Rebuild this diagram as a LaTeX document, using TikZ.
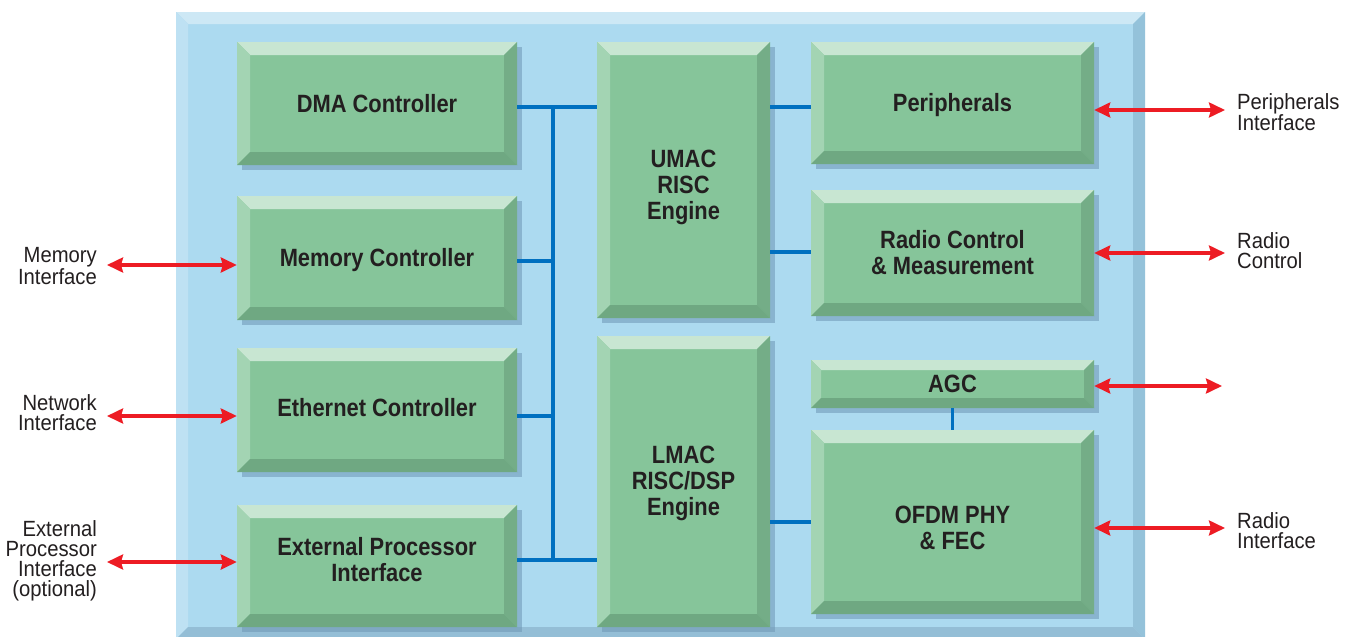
\documentclass[tikz,border=0pt]{standalone}
\usepackage{fontspec}
\setmainfont{Liberation Sans}
\newfontfamily\lblf{Liberation Sans}[FakeStretch=0.92]
\newfontfamily\blkf{Liberation Sans}[FakeStretch=0.875]
\usetikzlibrary{arrows.meta,shadows,calc}
\definecolor{gface}{RGB}{134,197,154}
\definecolor{gtop}{RGB}{200,230,210}
\definecolor{gleft}{RGB}{163,212,179}
\definecolor{gright}{RGB}{116,173,135}
\definecolor{gbot}{RGB}{111,168,130}
\definecolor{bface}{RGB}{172,218,240}
\definecolor{btop}{RGB}{205,232,245}
\definecolor{bleft}{RGB}{190,225,243}
\definecolor{bright}{RGB}{148,194,218}
\definecolor{bbot}{RGB}{148,190,214}
\definecolor{shad}{RGB}{110,150,180}
\definecolor{busc}{RGB}{0,112,192}
\definecolor{arrc}{RGB}{237,28,36}
\definecolor{txtc}{RGB}{35,31,32}
\newcommand{\bv}{13pt}
\tikzset{
  bvw/.code={\renewcommand{\bv}{#1}},
  bevelpic/.style n args={4}{path picture={
    \fill[#1] (path picture bounding box.north west) -- (path picture bounding box.north east)
      -- ($(path picture bounding box.north east)+(-\bv,-\bv)$) -- ($(path picture bounding box.north west)+(\bv,-\bv)$) -- cycle;
    \fill[#2] (path picture bounding box.north west) -- ($(path picture bounding box.north west)+(\bv,-\bv)$)
      -- ($(path picture bounding box.south west)+(\bv,\bv)$) -- (path picture bounding box.south west) -- cycle;
    \fill[#3] (path picture bounding box.north east) -- (path picture bounding box.south east)
      -- ($(path picture bounding box.south east)+(-\bv,\bv)$) -- ($(path picture bounding box.north east)+(-\bv,-\bv)$) -- cycle;
    \fill[#4] (path picture bounding box.south west) -- (path picture bounding box.south east)
      -- ($(path picture bounding box.south east)+(-\bv,\bv)$) -- ($(path picture bounding box.south west)+(\bv,\bv)$) -- cycle;
  }},
  blk/.style={rectangle, inner sep=0pt, fill=gface,
    drop shadow={shadow xshift=5pt, shadow yshift=-5pt, fill=shad, opacity=0.55},
    bevelpic={gtop}{gleft}{gright}{gbot}},
  btxt/.style={inner sep=0pt, text=txtc, align=center,
    font=\blkf\bfseries\fontsize{25}{26}\selectfont},
  panelst/.style={rectangle, inner sep=0pt, fill=bface, bvw=12pt,
    bevelpic={btop}{bleft}{bright}{bbot}},
  lbl/.style={inner sep=0pt, text=txtc, font=\lblf\fontsize{22}{20}\selectfont},
  bus/.style={draw=busc, line width=3.2pt},
  io/.style={draw=arrc, line width=3.2pt, {Stealth[length=16pt,width=15pt,inset=2pt]}-{Stealth[length=16pt,width=15pt,inset=2pt]}},
}
\begin{document}
\begin{tikzpicture}[x=1pt,y=-1pt]
\useasboundingbox (0,0) rectangle (1353,637);
\fill[white] (0,0) rectangle (1353,637);
% panel
\node[panelst, minimum width=969pt, minimum height=627pt] (panel) at (660.5,325.5) {};
% left column
\node[blk, minimum width=280pt, minimum height=123pt] (dma) at (377,103.5) {};
\node[blk, minimum width=280pt, minimum height=124pt] (mem) at (377,258) {};
\node[blk, minimum width=280pt, minimum height=124pt] (eth) at (377,410) {};
\node[blk, minimum width=280pt, minimum height=122pt] (ext) at (377,566) {};
% middle column
\node[blk, minimum width=173pt, minimum height=276pt] (umac) at (683.5,180) {};
\node[blk, minimum width=173pt, minimum height=291pt] (lmac) at (683.5,481.5) {};
% right column
\node[blk, minimum width=283pt, minimum height=122pt] (per) at (952.5,103) {};
\node[blk, minimum width=283pt, minimum height=126pt] (rad) at (952.5,253) {};
\node[blk, bvw=10pt, minimum width=283pt, minimum height=48pt] (agc) at (952.5,384) {};
\node[blk, minimum width=283pt, minimum height=184pt] (ofdm) at (952.5,522) {};
% block texts
\node[btxt] (dmaT) at ($(dma.center)+(0,0)$) {DMA Controller};
\node[btxt] (memT) at ($(mem.center)+(0,2)$) {Memory Controller};
\node[btxt] (ethT) at ($(eth.center)+(0,-2)$) {Ethernet Controller};
\node[btxt] (extT) at ($(ext.center)+(0,-6)$) {External Processor\\Interface};
\node[btxt] (umacT) at ($(umac.center)+(0,7)$) {UMAC\\RISC\\Engine};
\node[btxt] (lmacT) at ($(lmac.center)+(0,2)$) {LMAC\\RISC/DSP\\Engine};
\node[btxt] (perT) at ($(per.center)+(0,2)$) {Peripherals};
\node[btxt] (radT) at ($(rad.center)+(0,0)$) {Radio Control\\\& Measurement};
\node[btxt] (agcT) at ($(agc.center)+(0,0)$) {AGC};
\node[btxt] (ofdmT) at ($(ofdm.center)+(0,6)$) {OFDM PHY\\\& FEC};
% bus
\coordinate (bt) at (553,107);
\coordinate (bb) at (553,560);
\draw[bus] (bt) -- (bb);
\draw[bus] (dma.east |- bt) -- (umac.west |- bt);
\draw[bus] (mem.east |- 0,261) -- (bt |- 0,261);
\draw[bus] (eth.east |- 0,416) -- (bt |- 0,416);
\draw[bus] (ext.east |- bb) -- (lmac.west |- bb);
\draw[bus] (umac.east |- 0,107) -- (per.west |- 0,107);
\draw[bus] (umac.east |- 0,252) -- (rad.west |- 0,252);
\draw[bus] (lmac.east |- 0,522) -- (ofdm.west |- 0,522);
\draw[bus] (agc.south) -- (ofdm.north);
% left labels and arrows
\node[lbl, anchor=east, align=right] (lmem) at (97,266) {Memory\\Interface};
\node[lbl, anchor=east, align=right] (lnet) at (97,413) {Network\\Interface};
\node[lbl, anchor=east, align=right] (lext) at (97,561) {External\\Processor\\Interface\\(optional)};
\coordinate (amem) at (107,265);
\coordinate (anet) at (107,416);
\coordinate (aext) at (107,562);
\draw[io] (amem) -- (amem -| mem.west);
\draw[io] (anet) -- (anet -| eth.west);
\draw[io] (aext) -- (aext -| ext.west);
% right labels and arrows
\node[lbl, anchor=west, align=left] (lper) at (1237,112) {Peripherals\\Interface};
\node[lbl, anchor=west, align=left] (lrad) at (1237,251) {Radio\\Control};
\node[lbl, anchor=west, align=left] (lrif) at (1237,531) {Radio\\Interface};
\coordinate (aper) at (1225,110);
\coordinate (arad) at (1225,253);
\coordinate (aagc) at (1222,386);
\coordinate (arif) at (1225,528);
\draw[io] (per.east |- aper) -- (aper);
\draw[io] (rad.east |- arad) -- (arad);
\draw[io] (agc.east |- aagc) -- (aagc);
\draw[io] (ofdm.east |- arif) -- (arif);
\end{tikzpicture}
\end{document}
